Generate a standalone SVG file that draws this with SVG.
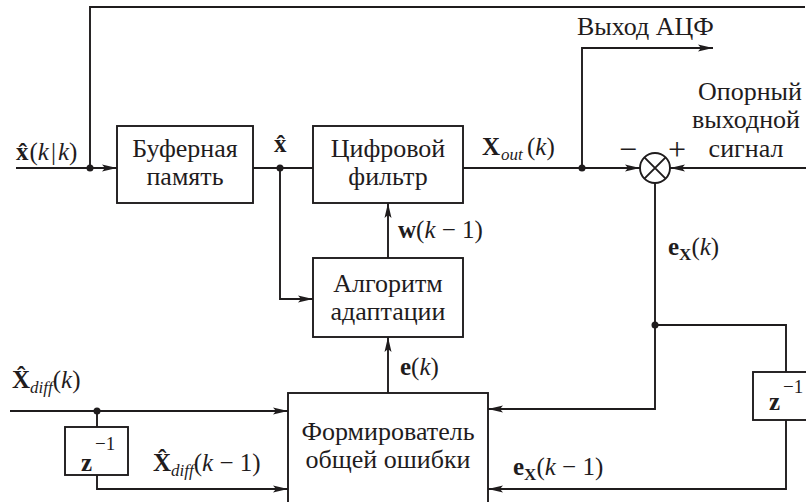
<svg xmlns="http://www.w3.org/2000/svg" width="806" height="502" viewBox="0 0 806 502" font-family="'Liberation Serif', 'DejaVu Serif', serif">
<style>
.ln{stroke:#1f1c1d;stroke-width:1.9;fill:none}
.bx{fill:#fff;stroke:#1f1c1d;stroke-width:1.9}
.t{font-family:'Liberation Serif','DejaVu Serif',serif;font-size:26px;fill:#1f1c1d}
.m{font-family:'Liberation Serif','DejaVu Serif',serif;font-size:25px;fill:#1f1c1d}
.c{text-anchor:middle}
.b{font-weight:bold}
.i{font-style:italic}
.s{font-size:17px}
.p{font-size:19px}
.g{font-size:32px}
</style>
<defs>
<marker id="ar" markerUnits="userSpaceOnUse" markerWidth="16" markerHeight="8" refX="15" refY="4" orient="auto">
<path d="M0,0.5 L15,4 L0,7.5 L3,4 z" fill="#1f1c1d"/>
</marker>
</defs>
<rect width="806" height="502" fill="#fff"/>
<g id="connectors">
<path class="ln" d="M90,168 V7 H805"/>
<path class="ln" d="M16,168 H117" marker-end="url(#ar)"/>
<path class="ln" d="M253,168 H313"/>
<path class="ln" d="M280,168 V299 H313" marker-end="url(#ar)"/>
<path class="ln" d="M463,168 H640" marker-end="url(#ar)"/>
<path class="ln" d="M582,168 V48 H713" marker-end="url(#ar)"/>
<path class="ln" d="M806,168 H670" marker-end="url(#ar)"/>
<path class="ln" d="M655,183 V409 H488" marker-end="url(#ar)"/>
<path class="ln" d="M655,325 H786 V372"/>
<path class="ln" d="M786,420 V489 H488" marker-end="url(#ar)"/>
<path class="ln" d="M388,258 V203" marker-end="url(#ar)"/>
<path class="ln" d="M388,393 V337" marker-end="url(#ar)"/>
<path class="ln" d="M10,411 H288" marker-end="url(#ar)"/>
<path class="ln" d="M97,411 V427"/>
<path class="ln" d="M97,475 V489 H288" marker-end="url(#ar)"/>
<g fill="#1f1c1d">
<circle cx="90" cy="168" r="3.5"/>
<circle cx="280" cy="168" r="3.5"/>
<circle cx="582" cy="168" r="3.5"/>
<circle cx="655" cy="325" r="3.5"/>
<circle cx="97" cy="411" r="3.5"/>
</g>
</g>
<g id="buffer">
<rect class="bx" x="117" y="126" width="136" height="77"/>
<text class="t c" x="185" y="157">Буферная</text>
<text class="t c" x="185" y="185">память</text>
</g>
<g id="filter">
<rect class="bx" x="313" y="126" width="150" height="77"/>
<text class="t c" x="388" y="157">Цифровой</text>
<text class="t c" x="388" y="185">фильтр</text>
</g>
<g id="adapt">
<rect class="bx" x="313" y="258" width="150" height="79"/>
<text class="t c" x="388" y="292">Алгоритм</text>
<text class="t c" x="388" y="320">адаптации</text>
</g>
<g id="former">
<rect class="bx" x="288" y="393" width="200" height="115"/>
<text class="t c" x="388" y="440">Формирователь</text>
<text class="t c" x="388" y="468">общей ошибки</text>
</g>
<g id="sum">
<circle class="bx" cx="655" cy="168" r="15"/>
<path class="ln" d="M644.4,157.4 L665.6,178.6 M665.6,157.4 L644.4,178.6"/>
<text class="m g c" x="628" y="160">−</text>
<text class="m g c" x="677" y="160">+</text>
</g>
<g id="delay1">
<rect class="bx" x="65" y="427" width="63" height="48"/>
<text class="m" x="81" y="471"><tspan class="b">z</tspan><tspan class="p" x="95" y="450">−1</tspan></text>
</g>
<g id="delay2">
<rect class="bx" x="753" y="372" width="56" height="48"/>
<text class="m" x="769" y="410"><tspan class="b">z</tspan><tspan class="p" x="783" y="393">−1</tspan></text>
</g>
<g id="labels">
<text class="m" x="16" y="160"><tspan class="b">x̂</tspan><tspan dx="1">(</tspan><tspan class="i">k</tspan><tspan dx="2">|</tspan><tspan class="i" dx="2">k</tspan>)</text>
<text class="m b" x="274" y="152">x̂</text>
<text class="m" x="482" y="155"><tspan class="b">X</tspan><tspan class="i s" x="501" y="160">out</tspan><tspan x="527" y="155">(</tspan><tspan class="i">k</tspan>)</text>
<text class="t" x="577" y="35">Выход АЦФ</text>
<text class="t c" x="750" y="100">Опорный</text>
<text class="t c" x="746" y="128">выходной</text>
<text class="t c" x="746" y="157">сигнал</text>
<text class="m" x="398" y="238"><tspan class="b">w</tspan>(<tspan class="i">k</tspan> − 1)</text>
<text class="m" x="668" y="255"><tspan class="b">e</tspan><tspan class="b s" dy="5">X</tspan><tspan dy="-5">(</tspan><tspan class="i">k</tspan>)</text>
<text class="m" x="400" y="375"><tspan class="b">e</tspan>(<tspan class="i">k</tspan>)</text>
<text class="m" x="513" y="475"><tspan class="b">e</tspan><tspan class="b s" dy="5">X</tspan><tspan dy="-5">(</tspan><tspan class="i">k</tspan> − 1)</text>
<text class="m" x="12" y="388"><tspan class="b">X̂</tspan><tspan class="i s" dy="5">diff</tspan><tspan dy="-5">(</tspan><tspan class="i">k</tspan>)</text>
<text class="m" x="153" y="471"><tspan class="b">X̂</tspan><tspan class="i s" dy="5">diff</tspan><tspan dy="-5">(</tspan><tspan class="i">k</tspan> − 1)</text>
</g>
</svg>
